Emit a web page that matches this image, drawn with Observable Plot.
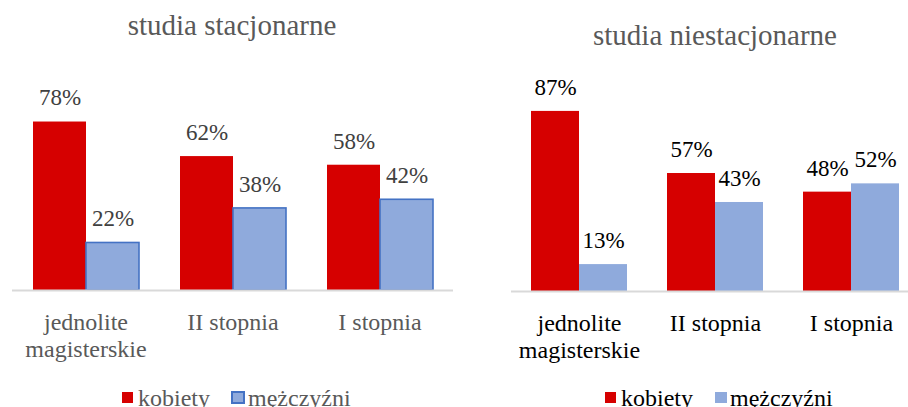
<!DOCTYPE html>
<html><head><meta charset="utf-8">
<script src="https://cdn.jsdelivr.net/npm/d3@7"></script>
<script src="https://cdn.jsdelivr.net/npm/@observablehq/plot@0.6"></script>
<style>
html,body{margin:0;padding:0;background:#fff;overflow:hidden;}
#root{position:relative;width:908px;height:407px;overflow:hidden;font-family:"Liberation Serif","Times New Roman",serif;}
#root svg, #root svg text{font-family:"Liberation Serif","Times New Roman",serif !important;}
.panel{position:absolute;top:0;height:407px;}
.title{position:absolute;font-size:29px;line-height:29px;color:#595959;white-space:nowrap;transform:translateX(-50%);}
.leg{position:absolute;font-size:24px;line-height:24px;white-space:nowrap;}
.sw{position:absolute;box-sizing:border-box;}
</style></head>
<body><div id="root"></div>
<script>
const categories = ["jednolite\nmagisterskie", "II stopnia", "I stopnia"];
const series = ["kobiety", "mężczyźni"];
const stacjonarneKobiety = [78, 62, 58];
const stacjonarneMezczyzni = [22, 38, 42];
const niestacjonarneKobiety = [87, 57, 48];
const niestacjonarneMezczyzni = [13, 43, 52];
const titles = ["studia stacjonarne", "studia niestacjonarne"];
const colors = ["#d60000", "#8faadc"];

function rowsOf(k, m) {
  const out = [];
  categories.forEach((c, i) => {
    out.push({cat: c, sex: series[0], value: k[i]});
    out.push({cat: c, sex: series[1], value: m[i]});
  });
  return out;
}

function panel(rows, o) {
  const marks = [
    Plot.barY(rows, {x: "sex", y: "value", fill: "sex"})
  ];
  if (o.stroke) {
    marks.push(Plot.barY(rows, {filter: d => d.sex === series[1], x: "sex", y: "value", fill: "none", stroke: o.stroke, strokeWidth: 1.6}));
  }
  marks.push(
    Plot.ruleY([0], {stroke: "#d9d9d9", strokeWidth: 2}),
    Plot.text(rows, {x: "sex", y: "value", text: d => d.value + "%", dy: -24, lineAnchor: "middle", fontSize: 23, fill: o.valueColor}),
    Plot.axisFx({anchor: "bottom", tickSize: 0, tickPadding: 21, fontSize: 24, lineHeight: 1.1, fill: o.labelColor, label: null})
  );
  return Plot.plot({
    width: o.width, height: 407,
    marginLeft: o.ml, marginRight: o.mr, marginTop: o.mt, marginBottom: o.mb,
    facet: {data: rows, x: "cat", marginTop: 0, marginRight: 0, marginBottom: 0, marginLeft: 0},
    fx: {domain: categories, padding: 0},
    x: {domain: series, paddingInner: 0, paddingOuter: o.po, axis: null},
    y: {domain: [0, 100], axis: null},
    color: {domain: series, range: colors},
    style: {background: "transparent", overflow: "visible"},
    marks
  });
}

const root = document.getElementById("root");

function addPanel(left, width, svg) {
  const d = document.createElement("div");
  d.className = "panel";
  d.style.left = left + "px";
  d.style.width = width + "px";
  d.appendChild(svg);
  root.appendChild(d);
}

addPanel(0, 454, panel(rowsOf(stacjonarneKobiety, stacjonarneMezczyzni),
  {width: 454, ml: 11, mr: 1, mt: 74, mb: 117, po: 0.364, stroke: "#4472c4", valueColor: "#404040", labelColor: "#595959"}));
addPanel(454, 465, panel(rowsOf(niestacjonarneKobiety, niestacjonarneMezczyzni),
  {width: 465, ml: 57, mr: 0, mt: 84, mb: 116, po: 0.388, stroke: null, valueColor: "#000000", labelColor: "#000000"}));

function addText(cls, text, left, top, color) {
  const t = document.createElement("div");
  t.className = cls;
  t.textContent = text;
  t.style.left = left + "px";
  t.style.top = top + "px";
  if (color) t.style.color = color;
  root.appendChild(t);
}
function addSwatch(left, top, w, h, fill, border) {
  const s = document.createElement("div");
  s.className = "sw";
  s.style.left = left + "px"; s.style.top = top + "px";
  s.style.width = w + "px"; s.style.height = h + "px";
  s.style.background = fill;
  if (border) s.style.border = "2px solid " + border;
  root.appendChild(s);
}

addText("title", titles[0], 232, 10.7);
addText("title", titles[1], 715, 20.7);

// legends
addSwatch(122, 392, 11, 11, colors[0]);
addText("leg", series[0], 138, 386.4, "#595959");
addSwatch(231, 391, 14, 13, colors[1], "#4472c4");
addText("leg", series[1], 248, 386.4, "#595959");

addSwatch(605, 392, 11, 11, colors[0]);
addText("leg", series[0], 621, 386.4, "#000000");
addSwatch(715, 392, 12, 11, colors[1]);
addText("leg", series[1], 730, 386.4, "#000000");
</script>
</body></html>
